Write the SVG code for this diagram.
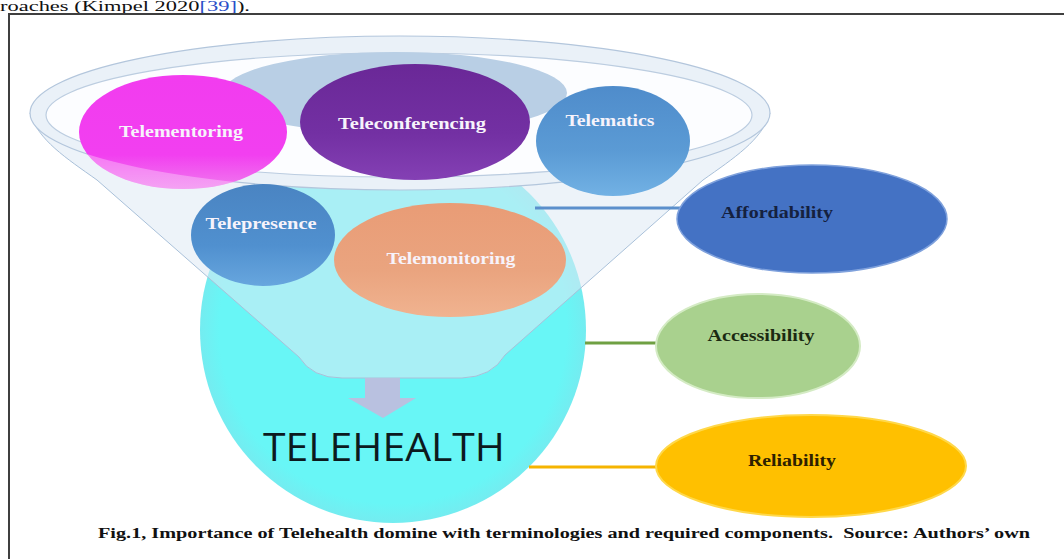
<svg xmlns="http://www.w3.org/2000/svg" width="1064" height="559" viewBox="0 0 1064 559">
  <defs>
    <style>
      .lbl { font-family: "Liberation Serif", "Times New Roman", serif; font-weight: bold; font-size: 17px; text-anchor: middle; }
      .wt { fill: #f7f3fb; }
      .cap { font-family: "Liberation Serif", "Times New Roman", serif; font-weight: bold; font-size: 15.5px; fill: #111; }
      .conn { fill: none; stroke-width: 3; }
    </style>
    <linearGradient id="gMag" x1="0" y1="0" x2="0" y2="1">
      <stop offset="0" stop-color="#f23cef"/>
      <stop offset="0.7" stop-color="#f23ff0"/>
      <stop offset="1" stop-color="#f07aee"/>
    </linearGradient>
    <linearGradient id="gPur" x1="0" y1="0" x2="0" y2="1">
      <stop offset="0" stop-color="#6a2897"/>
      <stop offset="0.6" stop-color="#7330a3"/>
      <stop offset="1" stop-color="#8440b4"/>
    </linearGradient>
    <linearGradient id="gBlu" x1="0" y1="0" x2="0" y2="1">
      <stop offset="0" stop-color="#4f8ccb"/>
      <stop offset="0.6" stop-color="#5b9bd5"/>
      <stop offset="1" stop-color="#72b1e4"/>
    </linearGradient>
    <linearGradient id="gBlu2" x1="0" y1="0" x2="0" y2="1">
      <stop offset="0" stop-color="#4a84c2"/>
      <stop offset="0.6" stop-color="#5090cf"/>
      <stop offset="1" stop-color="#67a6de"/>
    </linearGradient>
    <linearGradient id="gOra" x1="0" y1="0" x2="0" y2="1">
      <stop offset="0" stop-color="#e99c76"/>
      <stop offset="0.6" stop-color="#eaa47f"/>
      <stop offset="1" stop-color="#f0b390"/>
    </linearGradient>
    <radialGradient id="gCyan" cx="0.5" cy="0.5" r="0.5">
      <stop offset="0.9" stop-color="#68f6f6"/>
      <stop offset="1" stop-color="#74ecf0"/>
    </radialGradient>
    <clipPath id="clipMentor">
      <ellipse cx="183" cy="132" rx="104" ry="57"/>
    </clipPath>
  </defs>

  <rect x="0" y="0" width="1064" height="559" fill="#ffffff"/>

  <!-- running text of the page above the figure -->
  <text x="0" y="11" font-family="Liberation Serif, Times New Roman, serif" font-size="15" fill="#111" textLength="250" lengthAdjust="spacingAndGlyphs">roaches (Kimpel 2020<tspan fill="#2a4fc8">[39]</tspan>).</text>

  <!-- figure frame -->
  <path d="M 9 560 V 14 H 1066" fill="none" stroke="#3f3f3f" stroke-width="2"/>

  <!-- central TELEHEALTH disc -->
  <g id="telehealth">
    <circle cx="393" cy="330" r="193" fill="url(#gCyan)"/>
  </g>

  <!-- funnel: cone, rim and contents -->
  <g id="funnel">
    <path d="M 30 113 C 38 140 66 158 97 180 L 299 357 Q 312 378 342 378 L 462 378 Q 492 377 505 355 L 703 180 C 734 158 762 140 770 113 Z" fill="#dfe9f4" fill-opacity="0.55" stroke="#a9c0d9" stroke-width="1"/>
    <ellipse cx="400" cy="113" rx="370" ry="77" fill="#eaf1f8" stroke="#b3c6dc" stroke-width="1.2"/>
    <ellipse cx="399" cy="115" rx="353" ry="62" fill="#fcfdff" stroke="#bccde0" stroke-width="1.2"/>
    <ellipse cx="395" cy="93" rx="172" ry="41" fill="#b9cfe5"/>
  </g>

  <!-- down arrow into the disc -->
  <g id="arrow">
    <path d="M 365 378 H 400 V 398 H 416 L 383 418 L 348 398 H 365 Z" fill="#b9c1e0"/>
  </g>

  <text id="telehealth-label" x="384" y="461" font-family="Open Sans, Liberation Sans, sans-serif" font-size="39" fill="#0c1a1e" text-anchor="middle" textLength="242" lengthAdjust="spacingAndGlyphs">TELEHEALTH</text>

  <!-- connectors to the required components -->
  <g id="connectors">
    <line class="conn" x1="535" y1="208" x2="682" y2="208" stroke="#5b8fcc"/>
    <line class="conn" x1="585" y1="343" x2="660" y2="343" stroke="#6fa043"/>
    <line class="conn" x1="529" y1="467" x2="660" y2="467" stroke="#f5b400"/>
  </g>

  <!-- terminology bubbles -->
  <g id="telementoring">
    <ellipse cx="183" cy="132" rx="104" ry="57" fill="url(#gMag)"/>
    <!-- part of the bubble hanging outside the funnel rim, seen through the wall -->
    <path clip-path="url(#clipMentor)" fill-rule="evenodd" fill="#ffffff" fill-opacity="0.3" d="M 0 0 H 800 V 300 H 0 Z M 30 113 A 370 77 0 1 0 770 113 A 370 77 0 1 0 30 113 Z"/>
    <text class="lbl wt" x="181" y="137" textLength="124" lengthAdjust="spacingAndGlyphs">Telementoring</text>
  </g>
  <g id="teleconferencing">
    <ellipse cx="415" cy="122" rx="115" ry="58" fill="url(#gPur)"/>
    <text class="lbl wt" x="412" y="129" textLength="148" lengthAdjust="spacingAndGlyphs">Teleconferencing</text>
  </g>
  <g id="telematics">
    <ellipse cx="613" cy="141" rx="77" ry="55" fill="url(#gBlu)"/>
    <text class="lbl wt" x="610" y="126" textLength="89" lengthAdjust="spacingAndGlyphs">Telematics</text>
  </g>
  <g id="telepresence">
    <ellipse cx="263" cy="235" rx="72" ry="51" fill="url(#gBlu2)"/>
    <text class="lbl wt" x="261" y="229" textLength="111" lengthAdjust="spacingAndGlyphs">Telepresence</text>
  </g>
  <g id="telemonitoring">
    <ellipse cx="450" cy="260" rx="116" ry="57" fill="url(#gOra)"/>
    <text class="lbl wt" x="451" y="264" textLength="129" lengthAdjust="spacingAndGlyphs">Telemonitoring</text>
  </g>

  <!-- required components -->
  <g id="affordability">
    <ellipse cx="812" cy="219" rx="135" ry="54" fill="#4472c4" stroke="#7fa1dc" stroke-width="1.5"/>
    <text class="lbl" x="777" y="218" fill="#15213f" textLength="112" lengthAdjust="spacingAndGlyphs">Affordability</text>
  </g>
  <g id="accessibility">
    <ellipse cx="758" cy="346" rx="102" ry="52" fill="#a9d18e" stroke="#d4ebc4" stroke-width="2"/>
    <text class="lbl" x="761" y="341" fill="#1b2a12" textLength="107" lengthAdjust="spacingAndGlyphs">Accessibility</text>
  </g>
  <g id="reliability">
    <ellipse cx="811" cy="466" rx="155" ry="51" fill="#ffc000" stroke="#ffd84a" stroke-width="2"/>
    <text class="lbl" x="792" y="466" fill="#2e2100" textLength="88" lengthAdjust="spacingAndGlyphs">Reliability</text>
  </g>

  <text class="cap" x="98" y="538" textLength="932" lengthAdjust="spacingAndGlyphs">Fig.1, Importance of Telehealth domine with terminologies and required components.&#160; Source: Authors’ own</text>
</svg>
